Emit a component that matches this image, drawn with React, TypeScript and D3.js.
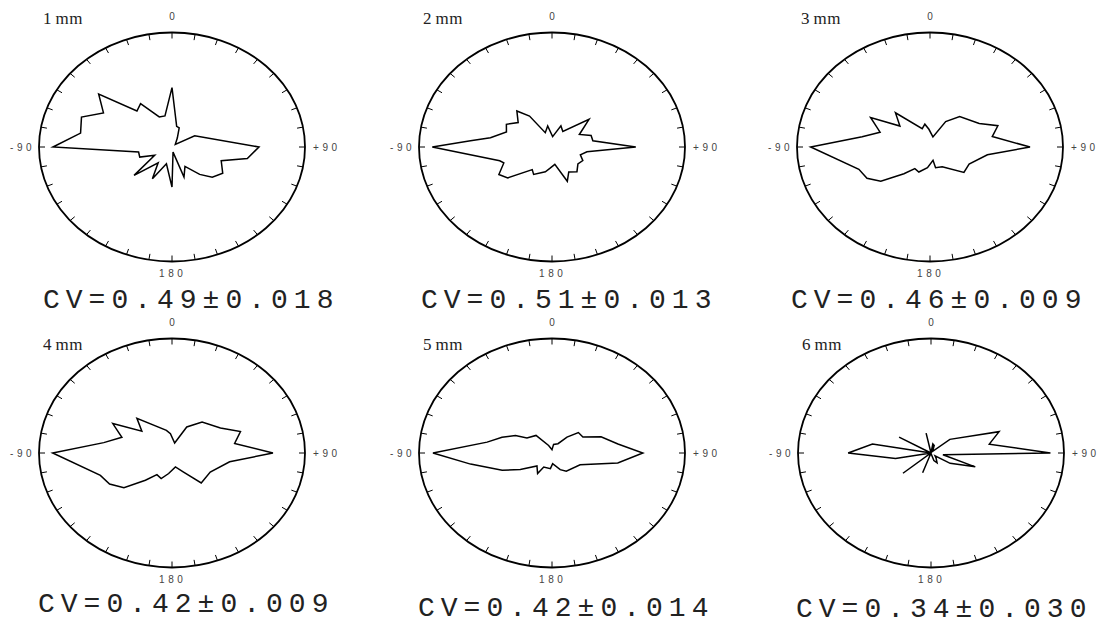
import { useEffect, useRef } from "react";
import * as d3 from "d3";

// [angle in degrees (0 = top, +90 = right), normalised radius]
const rose1: [number, number][] = [
  [-90, 0.895], [-80, 0.698], [-69, 0.729], [-60, 0.595], [-50, 0.72], [-40, 0.41],
  [-32, 0.446], [-20, 0.28], [-11, 0.277], [0, 0.519], [11, 0.184], [18, 0.175],
  [27, 0.088], [47, 0.034], [60, 0.197], [90, 0.654], [100, 0.575], [108, 0.389],
  [121, 0.445], [131, 0.401], [139, 0.317], [150, 0.195], [161, 0.277], [170, 0.045],
  [180, 0.35], [196, 0.152], [208, 0.314], [217, 0.173], [229, 0.378], [241, 0.149],
  [250, 0.258], [260, 0.255],
];
const rose2: [number, number][] = [
  [-90, 0.9], [-85, 0.615], [-80, 0.47], [-69, 0.367], [-60, 0.396], [-50, 0.332],
  [-40, 0.411], [-32, 0.319], [-22, 0.135], [-10, 0.187], [3, 0.091], [20, 0.196],
  [31, 0.158], [49, 0.369], [62, 0.233], [71, 0.311], [80, 0.312], [90, 0.63],
  [99, 0.266], [108, 0.224], [117, 0.26], [127, 0.244], [139, 0.286], [150, 0.252],
  [159, 0.321], [172, 0.153], [185, 0.188], [193, 0.222], [210, 0.276], [217, 0.247],
  [231, 0.428], [239, 0.466], [249, 0.388], [253, 0.411],
];
const rose3: [number, number][] = [
  [-90, 0.897], [-80, 0.518], [-71, 0.397], [-60, 0.516], [-51, 0.291], [-41, 0.396],
  [-20, 0.171], [-11, 0.203], [-3, 0.155], [14, 0.091], [28, 0.251], [40, 0.347],
  [61, 0.423], [70, 0.543], [79, 0.477], [90, 0.752], [99, 0.437], [117, 0.33],
  [131, 0.338], [152, 0.196], [167, 0.186], [169, 0.119], [186, 0.182], [201, 0.234],
  [211, 0.221], [220, 0.305], [231, 0.476], [240, 0.547], [250, 0.569],
];
const rose4: [number, number][] = [
  [-90, 0.897], [-80, 0.521], [-70, 0.401], [-60, 0.514], [-50, 0.296], [-41, 0.402],
  [-12, 0.202], [-4, 0.169], [13, 0.089], [26, 0.253], [40, 0.352], [59, 0.425],
  [70, 0.548], [80, 0.478], [90, 0.759], [100, 0.44], [120, 0.332], [140, 0.342],
  [153, 0.185], [168, 0.124], [188, 0.181], [200, 0.238], [211, 0.22], [220, 0.311],
  [230, 0.472], [240, 0.542], [250, 0.573],
];
const rose5: [number, number][] = [
  [-90, 0.895], [-79, 0.497], [-70, 0.4], [-61, 0.314], [-55, 0.23], [-38, 0.195],
  [-21, 0.071], [0, 0.029], [9, 0.076], [29, 0.093], [39, 0.179], [48, 0.267],
  [59, 0.271], [69, 0.395], [81, 0.502], [90, 0.683], [100, 0.502], [116, 0.235],
  [146, 0.192], [157, 0.158], [177, 0.093], [185, 0.137], [207, 0.137], [211, 0.21],
  [225, 0.16], [239, 0.278], [248, 0.404], [261, 0.62],
];
const rose6: [number, number][] = [
  [-90, 0.623], [-80, 0.447], [-70, 0], [-60, 0.277], [-50, 0], [-40, 0], [-30, 0],
  [-20, 0], [-12, 0.177], [0, 0], [10, 0.08], [20, 0.07], [30, 0.03], [40, 0.02],
  [50, 0.185], [70, 0.545], [80, 0.445], [90, 0.898], [100, 0.091], [110, 0.354],
  [122, 0.17], [130, 0.04], [140, 0.06], [152, 0.097], [162, 0.07], [170, 0.01],
  [180, 0], [190, 0], [200, 0.184], [210, 0], [220, 0], [230, 0.275], [240, 0],
  [250, 0], [260, 0.271],
];

const roses = [rose1, rose2, rose3, rose4, rose5, rose6];
const sizeLabels = ["1mm", "2mm", "3mm", "4mm", "5mm", "6mm"];
const cvLabels = [
  "CV=0.49±0.018", "CV=0.51±0.013", "CV=0.46±0.009",
  "CV=0.42±0.009", "CV=0.42±0.014", "CV=0.34±0.030",
];
const tickAngles = d3.range(0, 360, 10);

// layout
const centers: [number, number][] = [
  [172, 147], [552, 147], [930, 147],
  [172, 453], [552, 453], [931, 453],
];
const cvPos: [number, number][] = [
  [-129, 308], [-131, 308], [-139, 308],
  [-134, 612], [-134, 616], [-135, 617],
];
const RX = 133;
const RY = 114.5;

export default function App() {
  const ref = useRef<SVGSVGElement | null>(null);

  useEffect(() => {
    if (!ref.current) return;
    const svg = d3.select(ref.current);
    svg.selectAll("*").remove();

    const rad = (a: number) => (a * Math.PI) / 180;
    const sx = d3.scaleLinear([0, 1], [0, RX]);
    const sy = d3.scaleLinear([0, 1], [0, RY]);

    roses.forEach((data, i) => {
      const [cx, cy] = centers[i];
      const row = i < 3 ? 0 : 1;
      const g = svg.append("g").attr("transform", `translate(${cx},${cy})`);

      g.append("ellipse")
        .attr("rx", RX)
        .attr("ry", RY)
        .attr("fill", "none")
        .attr("stroke", "#000")
        .attr("stroke-width", 1.8);

      g.selectAll("line.tick")
        .data(tickAngles)
        .join("line")
        .attr("class", "tick")
        .attr("x1", (a) => sx(Math.sin(rad(a))))
        .attr("y1", (a) => -sy(Math.cos(rad(a))))
        .attr("x2", (a) => (RX - 6) * Math.sin(rad(a)))
        .attr("y2", (a) => -(RY - 6) * Math.cos(rad(a)))
        .attr("stroke", "#000")
        .attr("stroke-width", 1);

      const line = d3
        .line<[number, number]>()
        .x((d) => sx(d[1] * Math.sin(rad(d[0]))))
        .y((d) => -sy(d[1] * Math.cos(rad(d[0]))))
        .curve(d3.curveLinearClosed);

      g.append("path")
        .attr("d", line(data))
        .attr("fill", "none")
        .attr("stroke", "#000")
        .attr("stroke-width", 1.5)
        .attr("stroke-linejoin", "miter");

      const small = (x: number, y: number, t: string, anchor = "start") =>
        g.append("text")
          .attr("x", x)
          .attr("y", y)
          .attr("text-anchor", anchor)
          .attr("font-family", "Liberation Sans, Arial, sans-serif")
          .attr("font-size", 10)
          .attr("letter-spacing", anchor === "start" ? 3.6 : 0)
          .attr("fill", "#444")
          .text(t);
      small(0, -127, "0", "middle");
      small(-13, 130, "180");
      small(-162, 3.5, "-90");
      small(141, 3.5, "+90");

      const lbl = g.append("text")
        .attr("x", -129)
        .attr("y", row === 0 ? -123 : -103)
        .attr("font-family", "Liberation Serif, Times New Roman, serif")
        .attr("font-size", 17)
        .attr("fill", "#222");
      lbl.append("tspan").text(sizeLabels[i].slice(0, 1));
      lbl.append("tspan").attr("dx", 4).attr("letter-spacing", 0.5).text(sizeLabels[i].slice(1));

      svg.append("text")
        .attr("x", cx + cvPos[i][0])
        .attr("y", cvPos[i][1])
        .attr("font-family", "Liberation Mono, Courier New, monospace")
        .attr("font-size", 28)
        .attr("letter-spacing", 6)
        .attr("fill", "#222")
        .text(cvLabels[i]);
    });
  }, []);

  return (
    <svg
      ref={ref}
      width={1104}
      height={628}
      style={{ position: "absolute", left: 0, top: 0, background: "#fff" }}
    />
  );
}
